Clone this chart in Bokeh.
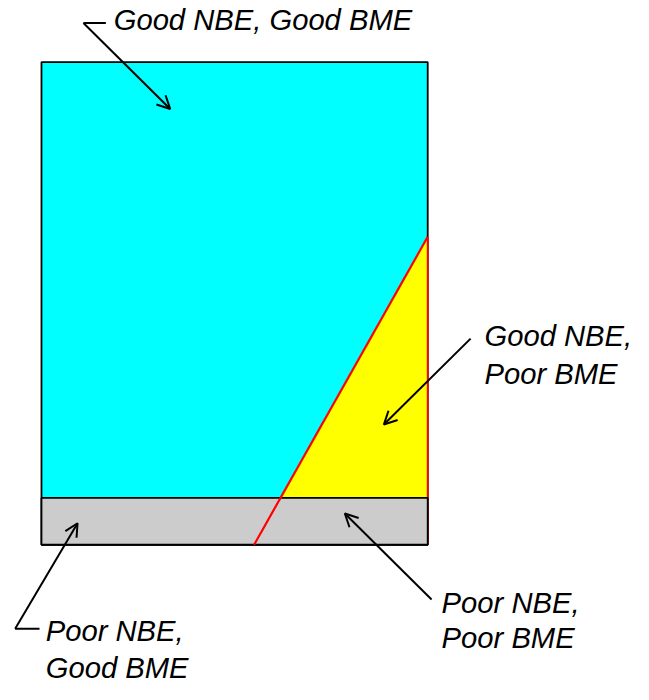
from bokeh.plotting import figure
from bokeh.models import Range1d, Arrow, OpenHead
from bokeh.core.properties import value
from bokeh.embed import file_html
from bokeh.resources import INLINE

# Region data (box frame: x 0..100, y 0..100)
box_x = [0, 100]
box_y = [0, 100]
band_top = 9.7                      # top of "Poor NBE" band
boundary_x = [55.05, 100.0]         # red NBE/BME boundary line
boundary_y = [0.0, 63.8]
yellow_x = [61.9, 100.0, 100.0]
yellow_y = [band_top, 63.8, band_top]

labels = ["Good NBE, Good BME", "Good NBE,", "Poor BME",
          "Poor NBE,", "Poor BME", "Poor NBE,", "Good BME"]
label_x = [18.7, 114.7, 114.7, 103.6, 103.6, 1.1, 1.1]
label_y = [108.75, 43.35, 35.45, -12.1, -19.4, -17.95, -25.45]

# leader lines (tail segments) and arrows
leader_xs = [[16.67, 10.86], [-0.51, -6.82]]
leader_ys = [[108.1, 108.1], [-17.41, -17.41]]
arrow_start = [(10.86, 108.1), (111.1, 42.71), (101.0, -11.34), (-6.82, -17.41)]
arrow_end = [(33.33, 90.28), (88.64, 24.9), (78.54, 6.48), (9.34, 4.45)]

p = figure(width=633, height=684, output_backend="svg", toolbar_location=None,
           x_range=Range1d(-10.61, 153.28), y_range=Range1d(-28.95, 112.75),
           min_border=0, outline_line_color=None)
p.axis.visible = False
p.grid.visible = False
p.background_fill_color = "white"

# cyan full box
p.quad(left=[box_x[0]], right=[box_x[1]], bottom=[box_y[0]], top=[box_y[1]],
       fill_color="#00FFFF", line_color="black", line_width=1.8)
# yellow triangle
p.patch(yellow_x, yellow_y, fill_color="#FFFF00", line_color=None)
# red right edge below boundary
p.line([100, 100], [0, boundary_y[1]], line_color="#FF0000", line_width=1.8)
# gray band
p.quad(left=[box_x[0]], right=[box_x[1]], bottom=[box_y[0]], top=[band_top],
       fill_color="#CCCCCC", line_color="black", line_width=1.8)
# red boundary line
p.line(boundary_x, boundary_y, line_color="#FF0000", line_width=2.2)

# leaders and arrows
p.multi_line(leader_xs, leader_ys, line_color="black", line_width=2)
for (x0, y0), (x1, y1) in zip(arrow_start, arrow_end):
    p.add_layout(Arrow(x_start=x0, y_start=y0, x_end=x1, y_end=y1,
                       line_color="black", line_width=2,
                       end=OpenHead(size=13, line_width=2, line_color="black")))

p.text(x=label_x, y=label_y, text=labels, text_font=value("Liberation Sans"),
       text_font_style="italic", text_font_size="29.2px", text_color="black",
       text_baseline="alphabetic", text_align="left")

open("out.html", "w").write(file_html(p, INLINE))
